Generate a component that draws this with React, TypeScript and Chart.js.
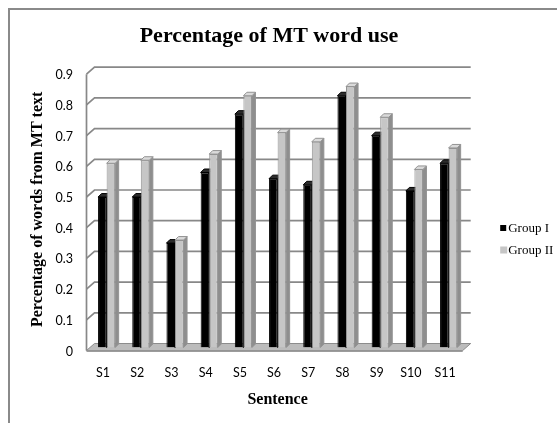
import React, { useEffect, useRef } from "react";
import { Chart, registerables } from "chart.js";

Chart.register(...registerables);

const sentences = ["S1", "S2", "S3", "S4", "S5", "S6", "S7", "S8", "S9", "S10", "S11"];
const groupI = [0.49, 0.49, 0.34, 0.57, 0.76, 0.55, 0.53, 0.82, 0.69, 0.51, 0.6];
const groupII = [0.6, 0.61, 0.35, 0.63, 0.82, 0.7, 0.67, 0.85, 0.75, 0.58, 0.65];
const seriesNames = ["Group I", "Group II"];
const yTickLabels = ["0", "0.1", "0.2", "0.3", "0.4", "0.5", "0.6", "0.7", "0.8", "0.9"];
const chartTitle = "Percentage of MT word use";
const xTitle = "Sentence";
const yTitle = "Percentage of words from MT text";

const frontColors = ["#000000", "#c6c6c6"];
const sideColors = ["#3a3a3a", "#8e8e8e"];
const topColors = ["#2c2c2c", "#dadada"];
const edgeColors = ["#000000", "#939393"];

const SERIF = '"Liberation Serif", "Times New Roman", serif';
const SANS = 'Lato, "Liberation Sans", sans-serif';

const depthPlugin = {
  id: "depth3d",
  beforeDraw(chart: any) {
    const ctx = chart.ctx;
    ctx.save();
    ctx.strokeStyle = "#8a8a8a";
    ctx.lineWidth = 2;
    ctx.beginPath();
    ctx.moveTo(1, chart.height);
    ctx.lineTo(1, 1);
    ctx.lineTo(chart.width, 1);
    ctx.stroke();
    ctx.restore();
  },
  beforeDatasetsDraw(chart: any) {
    const ctx = chart.ctx;
    const { left, right } = chart.chartArea;
    const ys = chart.scales.y;
    const bx = 5, by = -4, fx = -3, fy = 3;
    const y0 = ys.getPixelForValue(0);
    const yTop = ys.getPixelForValue(ys.max);
    ctx.save();
    // floor
    ctx.fillStyle = "#bcbcbc";
    ctx.strokeStyle = "#8c8c8c";
    ctx.lineWidth = 1;
    ctx.beginPath();
    ctx.moveTo(left + fx, y0 + fy);
    ctx.lineTo(right + fx, y0 + fy);
    ctx.lineTo(right + bx, y0 + by);
    ctx.lineTo(left + bx, y0 + by);
    ctx.closePath();
    ctx.fill();
    ctx.stroke();
    ctx.fillStyle = "#9c9c9c";
    ctx.fillRect(left + fx, y0 + fy, right - left, 1.5);
    // back wall grid lines
    ctx.strokeStyle = "#888888";
    ctx.lineWidth = 1.7;
    ys.ticks.forEach((t: any) => {
      if (t.value <= 0) return;
      const y = ys.getPixelForValue(t.value);
      ctx.beginPath();
      ctx.moveTo(left + fx, y + fy);
      ctx.lineTo(left + bx, y + by);
      ctx.lineTo(right + bx, y + by);
      ctx.stroke();
    });
    // side wall front edge
    ctx.beginPath();
    ctx.moveTo(left + fx, yTop + fy);
    ctx.lineTo(left + fx, y0 + fy);
    ctx.stroke();
    // bar side and top faces
    const d = 3.5;
    chart.data.datasets.forEach((_: any, di: number) => {
      const meta = chart.getDatasetMeta(di);
      meta.data.forEach((el: any) => {
        const { x, y, base, width } = el.getProps(["x", "y", "base", "width"], true);
        const l = x - width / 2;
        const r = x + width / 2;
        ctx.lineWidth = 1;
        ctx.strokeStyle = edgeColors[di];
        ctx.fillStyle = sideColors[di];
        ctx.beginPath();
        ctx.moveTo(r, y);
        ctx.lineTo(r + d, y - d);
        ctx.lineTo(r + d, base - d);
        ctx.lineTo(r, base);
        ctx.closePath();
        ctx.fill();
        ctx.stroke();
        ctx.fillStyle = topColors[di];
        ctx.beginPath();
        ctx.moveTo(l, y);
        ctx.lineTo(l + d, y - d);
        ctx.lineTo(r + d, y - d);
        ctx.lineTo(r, y);
        ctx.closePath();
        ctx.fill();
        ctx.stroke();
      });
    });
    ctx.restore();
  },
  afterDraw(chart: any) {
    const ctx = chart.ctx;
    const ca = chart.chartArea;
    ctx.save();
    ctx.font = "13px " + SERIF;
    ctx.textBaseline = "middle";
    ctx.textAlign = "left";
    const mx = ca.right + 34.5;
    const rows = [220, 242];
    const sizes = [6, 7];
    chart.data.datasets.forEach((ds: any, i: number) => {
      const cy = rows[i];
      const s = sizes[i];
      ctx.fillStyle = frontColors[i];
      ctx.fillRect(mx, cy - s / 2, s, s);
      ctx.fillStyle = "#000000";
      ctx.fillText(ds.label, mx + 8, cy + 0.5);
    });
    ctx.restore();
  },
};

export default function App() {
  const ref = useRef<HTMLCanvasElement | null>(null);
  useEffect(() => {
    if (!ref.current) return;
    const chart = new Chart(ref.current, {
      type: "bar",
      data: {
        labels: sentences,
        datasets: [
          {
            label: seriesNames[0],
            data: groupI,
            backgroundColor: frontColors[0],
            borderColor: edgeColors[0],
            borderWidth: 1,
            categoryPercentage: 0.5,
            barPercentage: 1,
          },
          {
            label: seriesNames[1],
            data: groupII,
            backgroundColor: frontColors[1],
            borderColor: edgeColors[1],
            borderWidth: 1,
            categoryPercentage: 0.5,
            barPercentage: 1,
          },
        ],
      },
      options: {
        responsive: false,
        animation: false,
        layout: { padding: { left: 0, right: 27, top: 0, bottom: 0 } },
        plugins: {
          legend: { display: false },
          tooltip: { enabled: false },
          title: {
            display: true,
            text: chartTitle,
            color: "#000000",
            font: { family: SERIF, size: 22, weight: "bold" },
            padding: { top: 14.8, bottom: 22 },
          },
        },
        scales: {
          x: {
            type: "category",
            grid: { display: false, drawTicks: false },
            border: { display: false },
            ticks: {
              color: "#000000",
              font: { family: SANS, size: 12.5 },
              padding: 17.5,
              labelOffset: -3.5,
              maxRotation: 0,
              autoSkip: false,
            },
            title: {
              display: true,
              text: xTitle,
              color: "#000000",
              font: { family: SERIF, size: 16, weight: "bold" },
              padding: { top: 0, bottom: 13.4 },
            },
            afterFit(scale: any) {
              scale.height = 75.5;
            },
          },
          y: {
            min: 0,
            max: 0.9,
            grid: { display: false, drawTicks: false },
            border: { display: false },
            ticks: {
              stepSize: 0.1,
              color: "#000000",
              font: { family: SANS, size: 12.5 },
              padding: 16.5,
              labelOffset: 4,
              callback: (_v: any, i: number) => yTickLabels[i],
            },
            title: {
              display: true,
              text: yTitle,
              color: "#000000",
              font: { family: SERIF, size: 16, weight: "bold" },
              padding: { top: 20.4, bottom: 0 },
            },
            afterFit(scale: any) {
              scale.width = 81.5;
            },
          },
          legendSpace: {
            type: "linear",
            position: "right",
            display: true,
            grid: { display: false, drawTicks: false },
            border: { display: false },
            ticks: { display: false },
            afterFit(scale: any) {
              scale.width = 64.3;
            },
          },
        },
      },
      plugins: [depthPlugin],
    });
    return () => chart.destroy();
  }, []);
  return (
    <div
      style={{
        position: "fixed",
        left: 8,
        top: 8,
        width: 549,
        height: 415,
        overflow: "hidden",
        background: "#ffffff",
      }}
    >
      <canvas ref={ref} width={549} height={415} />
    </div>
  );
}
